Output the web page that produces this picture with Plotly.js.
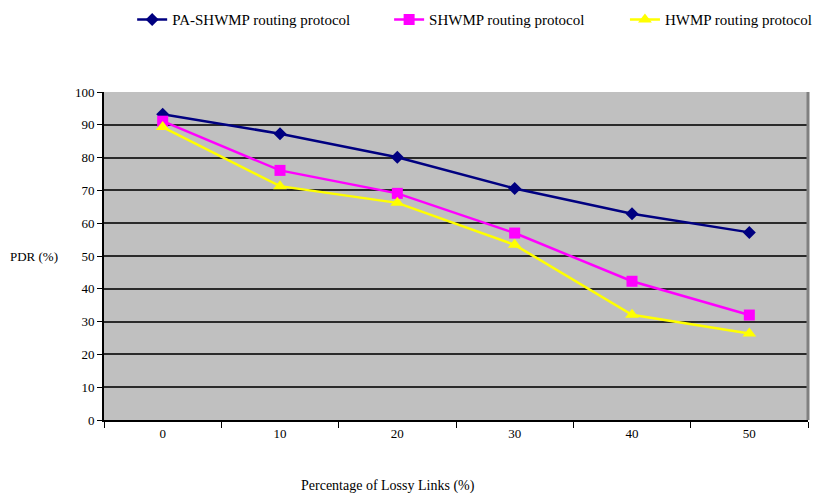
<!DOCTYPE html>
<html>
<head>
<meta charset="utf-8">
<script src="https://cdn.plot.ly/plotly-3.0.1.min.js"></script>
<style>body{margin:0;padding:0;background:#fff;} #chart{width:824px;height:493px;}</style>
</head>
<body>
<div id="chart"></div>
<script>
const categories = ["0", "10", "20", "30", "40", "50"];
const paShwmp = [93.2, 87.3, 80.1, 70.6, 62.9, 57.2];
const shwmp = [91.1, 76.1, 69.1, 57.0, 42.3, 32.0];
const hwmp = [89.3, 71.3, 66.2, 53.4, 32.1, 26.4];
const seriesNames = ["PA-SHWMP routing protocol", "SHWMP routing protocol", "HWMP routing protocol"];
const yTicks = [0, 10, 20, 30, 40, 50, 60, 70, 80, 90, 100];

const font = "'Liberation Serif', 'DejaVu Serif', serif";
const traces = [
  {x: categories, y: paShwmp, name: seriesNames[0], type: "scatter", mode: "lines+markers", legend: "legend",
   line: {color: "#000080", width: 2.5}, marker: {symbol: "diamond", size: 10, color: "#000080"}},
  {x: categories, y: shwmp, name: seriesNames[1], type: "scatter", mode: "lines+markers", legend: "legend2",
   line: {color: "#ff00ff", width: 2.5}, marker: {symbol: "square", size: 11, color: "#ff00ff"}},
  {x: categories, y: hwmp, name: seriesNames[2], type: "scatter", mode: "lines+markers", legend: "legend3",
   line: {color: "#ffff00", width: 2.5}, marker: {symbol: "triangle-up", size: 12, color: "#ffff00"}}
];
const legendBase = {orientation: "h", xanchor: "left", y: 1.22, yanchor: "middle",
                    font: {family: font, size: 15, color: "#000"}, bgcolor: "rgba(0,0,0,0)"};
const layout = {
  width: 824, height: 493,
  margin: {l: 104, r: 16, t: 92, b: 73, autoexpand: false},
  paper_bgcolor: "#ffffff",
  plot_bgcolor: "#c0c0c0",
  font: {family: font, size: 13, color: "#000"},
  showlegend: true,
  legend: Object.assign({}, legendBase, {x: 0.04}),
  legend2: Object.assign({}, legendBase, {x: 0.405}),
  legend3: Object.assign({}, legendBase, {x: 0.74}),
  xaxis: {type: "category", range: [-0.5, 5.5], tickson: "boundaries", ticks: "outside",
          ticklen: 6, tickcolor: "#000", showline: true, linecolor: "#000", linewidth: 2,
          showgrid: false, zeroline: false, tickfont: {family: font, size: 13}},
  yaxis: {range: [0, 100], tickvals: yTicks, ticks: "outside", ticklen: 5, tickcolor: "#000",
          showline: true, linecolor: "#000", linewidth: 2, showgrid: true, gridcolor: "#2a2a2a",
          gridwidth: 1.5, zeroline: false, tickfont: {family: font, size: 13}},
  shapes: [{type: "line", xref: "paper", yref: "paper", x0: 1, x1: 1, y0: 0, y1: 1,
            line: {color: "#808080", width: 3}}],
  annotations: [
    {text: "PDR (%)", xref: "paper", yref: "paper", x: -0.1, y: 0.5,
     xanchor: "center", yanchor: "middle", showarrow: false, font: {family: font, size: 13}},
    {text: "Percentage of Lossy Links (%)", xref: "paper", yref: "paper", x: 0.404, y: -0.2,
     xanchor: "center", yanchor: "middle", showarrow: false, font: {family: font, size: 14}}
  ]
};
Plotly.newPlot("chart", traces, layout, {displayModeBar: false});
</script>
</body>
</html>
